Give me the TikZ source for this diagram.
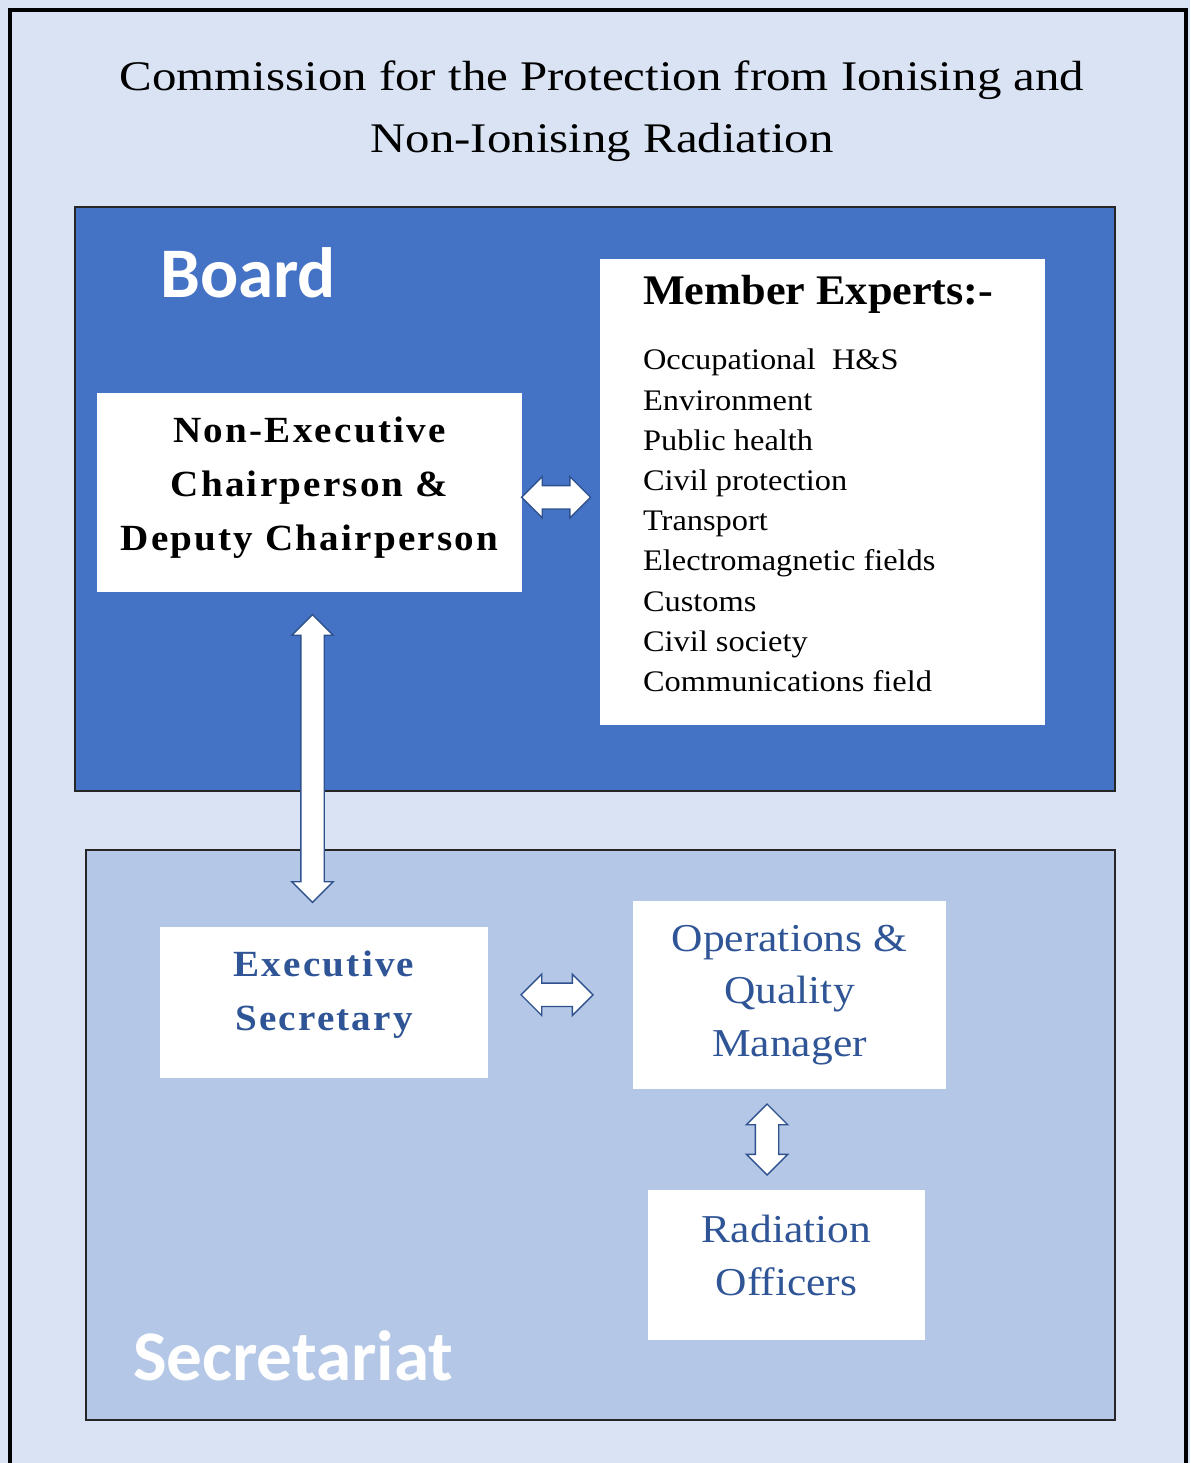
\documentclass[tikz,border=0pt]{standalone}
\usepackage{fontspec}
\setmainfont{Liberation Serif}
\newfontfamily\boardfont{Carlito}
\newfontfamily\titlefont[FakeStretch=1.16]{Liberation Serif}
\newfontfamily\listfont[FakeStretch=1.085]{Liberation Serif}
\newfontfamily\headfont[FakeStretch=1.05]{Liberation Serif}
\newfontfamily\roleboldfont[LetterSpace=6, FakeStretch=1.06]{Liberation Serif}
\newfontfamily\rolefont[FakeStretch=1.1]{Liberation Serif}
\usetikzlibrary{shapes.arrows,calc}
\definecolor{paleblue}{HTML}{DAE3F3}
\definecolor{boardblue}{HTML}{4472C4}
\definecolor{secblue}{HTML}{B4C7E7}
\definecolor{textblue}{HTML}{2F5597}
\definecolor{edgeblue}{HTML}{2F528F}
\tikzset{
  whitebox/.style={fill=white, inner sep=0pt, align=center},
  panel/.style={draw=black!85, line width=1pt, inner sep=0pt},
  dblarrow/.style={double arrow, draw=edgeblue, fill=white, line width=0.8pt,
    inner xsep=0pt, inner ysep=0.22cm, double arrow head extend=0.18cm,
    minimum height=#1},
  grouplabel/.style={anchor=base west, text=white, font=\boardfont\bfseries\fontsize{40.5}{48}\selectfont}
}
\begin{document}
\begin{tikzpicture}[x=0.02cm, y=-0.02cm]
    % page and outer frame
    \useasboundingbox (0,0) rectangle (1190,1463);
    \fill[paleblue] (0,0) rectangle (1190,1463);
    \draw[line width=2.8pt, fill=paleblue] (10,10) rectangle (1186,1520);
    \node (title) at (602,111) [align=center, font=\titlefont\fontsize{24}{35}\selectfont]
        {Commission for the Protection from Ionising and\\Non-Ionising Radiation};

    % Board
    \node[panel, fill=boardblue, minimum width=20.8cm, minimum height=11.68cm] (board) at (595,499) {};
    \node[grouplabel] (boardlabel) at (154,297) {Board};
    \node[whitebox, minimum width=8.5cm, minimum height=3.98cm, text depth=10.3pt,
          font=\roleboldfont\bfseries\fontsize{21}{30.6}\selectfont] (nonexec) at (309.5,492.5)
        {Non-Executive\\Chairperson \&\\Deputy Chairperson};
    \node[whitebox, minimum width=8.9cm, minimum height=9.32cm] (experts) at (822.5,492) {};
    \node[anchor=base west, inner sep=0pt, font=\headfont\bfseries\fontsize{24}{28}\selectfont]
        (expertshead) at ($(experts.north west)+(43,46)$) {Member Experts:-};
    \node[anchor=north west, inner sep=0pt, align=left, font=\listfont\fontsize{17}{22.9}\selectfont]
        (expertlist) at ($(experts.north west)+(43,90)$)
        {Occupational~ H\&S\\Environment\\Public health\\Civil protection\\Transport\\
         Electromagnetic fields\\Customs\\Civil society\\Communications field};

    % Secretariat
    \node[panel, fill=secblue, minimum width=20.58cm, minimum height=11.4cm] (secretariat) at (600.5,1135) {};
    \node[grouplabel] (seclabel) at (127,1380) {Secretariat};
    \node[whitebox, minimum width=6.56cm, minimum height=3.02cm, text=textblue, text depth=13.7pt,
          font=\roleboldfont\bfseries\fontsize{21}{31}\selectfont] (exec) at (324,1002.5)
        {Executive\\Secretary};
    \node[whitebox, minimum width=6.26cm, minimum height=3.76cm, text=textblue,
          font=\rolefont\fontsize{22.5}{30}\selectfont] (ops) at (789.5,995)
        {Operations \&\\Quality\\Manager};
    \node[whitebox, minimum width=5.54cm, minimum height=3.0cm, text=textblue, text depth=11.3pt,
          font=\rolefont\fontsize{22.5}{30.5}\selectfont] (radiation) at (786.5,1265)
        {Radiation\\Officers};

    % block arrows between the boxes
    \node[dblarrow=1.38cm, xshift=-0.1cm, yshift=-0.1cm] (link1) at ($(nonexec.east)!0.5!(experts.west)$) {};
    \node[dblarrow=5.76cm, rotate=90, xshift=0.02cm, yshift=-0.06cm] (link2) at ($(nonexec.south)!0.5!(nonexec.south |- exec.north)$) {};
    \node[dblarrow=1.44cm, xshift=-0.07cm, yshift=0.08cm] (link3) at ($(exec.east)!0.5!(ops.west)$) {};
    \node[dblarrow=1.42cm, rotate=90, yshift=0.42cm] (link4) at ($(ops.south)!0.5!(radiation.north)$) {};
\end{tikzpicture}
\end{document}
